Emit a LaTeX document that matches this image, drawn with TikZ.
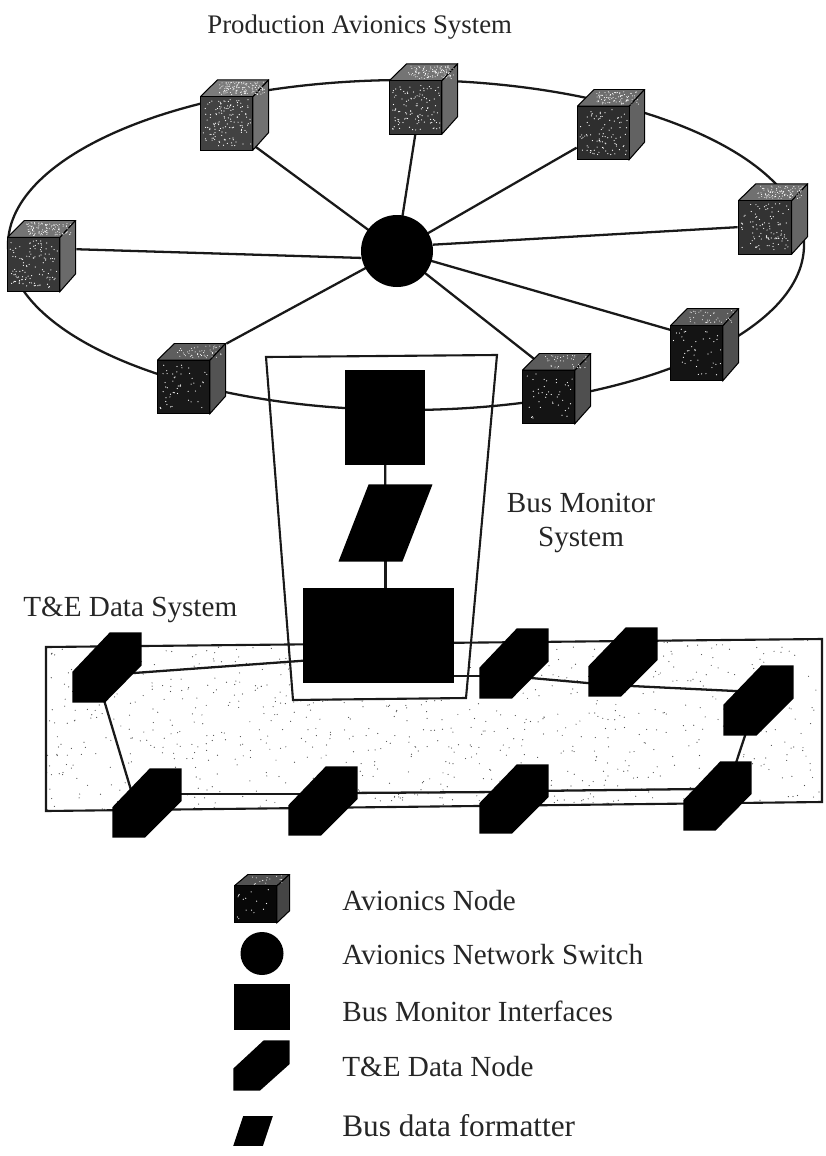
\documentclass[tikz,border=0pt]{standalone}
\usepackage{fontspec}
\setmainfont{Liberation Serif}
\pgfdeclarelayer{edgelayer}
\pgfdeclarelayer{nodelayer}
\pgfsetlayers{edgelayer,nodelayer,main}
\tikzset{font=\fontsize{16.6}{18}\selectfont}
\tikzstyle{none}=[inner sep=0pt]
\tikzstyle{label}=[inner sep=0pt,anchor=west,text=black!85]
\tikzstyle{sw}=[circle,fill=black,inner sep=0pt]
\tikzstyle{mon}=[rectangle,fill=black,inner sep=0pt]
\tikzstyle{wire}=[line width=1.3pt,draw=black!90]
\tikzstyle{bound}=[line width=1.2pt,draw=black!90]
\tikzset{
	cube/.style n args={3}{rectangle,inner sep=0pt,minimum width=#1*.02cm,minimum height=#2*.02cm,
		path picture={
			\begin{scope}[x=#1*.0002cm,y=-#2*.0002cm,draw=black,line width=.6pt]
				\filldraw[fill=black!#3!white!70!white] (-50,-26) -- (-25,-50) -- (50,-50) -- (27,-26) -- cycle;
				\filldraw[fill=black!#3!white!75!white] (27,-26) -- (50,-50) -- (50,25) -- (27,50) -- cycle;
				\filldraw[fill=black!#3] (-50,-26) rectangle (27,50);
				\pgfmathtruncatemacro{\dotn}{(100-#3)*5}
				\foreach \i in {1,...,\dotn} {
					\pgfmathsetmacro{\dotx}{-46+70*rnd}
					\pgfmathsetmacro{\doty}{-22+66*rnd}
					\fill[white] (\dotx,\doty) circle [radius=.35pt];
					\pgfmathsetmacro{\dotx}{-22+66*rnd}
					\pgfmathsetmacro{\doty}{-47+18*rnd}
					\fill[white] (\dotx,\doty) circle [radius=.3pt];
				}
			\end{scope}
		}},
	datanode/.style 2 args={rectangle,inner sep=0pt,minimum width=#1*.02cm,minimum height=#2*.02cm,
		path picture={
			\fill[black,x=#1*.0002cm,y=-#2*.0002cm] (4,-50) -- (50,-50) -- (50,-3) -- (-3,50) -- (-50,50) -- (-50,6) -- cycle;
		}},
	fmt/.style n args={3}{rectangle,inner sep=0pt,minimum width=#1*.02cm,minimum height=#2*.02cm,
		path picture={
			\fill[black,x=#1*.0002cm,y=-#2*.0002cm] (-#3,-50) -- (50,-50) -- (#3,50) -- (-50,50) -- cycle;
		}}
}

\begin{document}
\begin{tikzpicture}[x=.02cm,y=-.02cm]
	\useasboundingbox (0,0) rectangle (825,1156);
	\pgfmathsetseed{7}
	\begin{pgfonlayer}{nodelayer}
		\node [style={cube={69}{72}{78}}] (c1) at (41.5,256) {};
		\node [style={cube={69}{71}{74}}] (c2) at (234.5,115) {};
		\node [style={cube={69}{71}{78}}] (c3) at (423.5,99) {};
		\node [style={cube={68}{71}{82}}] (c4) at (611,124.5) {};
		\node [style={cube={70}{71}{80}}] (c5) at (773,219) {};
		\node [style={cube={69}{73}{92}}] (c6) at (704.5,344.5) {};
		\node [style={cube={69}{71}{92}}] (c7) at (556.5,388.5) {};
		\node [style={cube={69}{71}{90}}] (c8) at (191.5,378.5) {};
		\node [style=sw,minimum size=72*.02cm] (hub) at (397,251) {};
		\node [style=mon,minimum width=80*.02cm,minimum height=95*.02cm] (mon1) at (385,417.5) {};
		\node [style={fmt={95}{78}{18}}] (form) at (385.5,523) {};
		\node [style=mon,minimum width=151*.02cm,minimum height=95*.02cm] (mon2) at (378.5,635.5) {};
		\node [style={datanode={70}{71}}] (d1) at (107,667.5) {};
		\node [style={datanode={70}{71}}] (d2) at (514,663.5) {};
		\node [style={datanode={70}{70}}] (d3) at (623,662) {};
		\node [style={datanode={71}{71}}] (d4) at (758.5,700.5) {};
		\node [style={datanode={69}{70}}] (d5) at (717.5,796) {};
		\node [style={datanode={70}{70}}] (d6) at (514,799) {};
		\node [style={datanode={70}{70}}] (d7) at (323,801) {};
		\node [style={datanode={70}{70}}] (d8) at (147,803) {};
		% legend
		\node [style={cube={56}{49}{97}}] (k1) at (262,898.5) {};
		\node [style=sw,minimum size=43*.02cm] (k2) at (262,953.5) {};
		\node [style=mon,minimum width=56*.02cm,minimum height=46*.02cm] (k3) at (262,1007) {};
		\node [style={datanode={57}{51}}] (k4) at (261.5,1065.5) {};
		\node [style={fmt={40}{30}{25}}] (k5) at (253,1131) {};
		\node [style=label] (t1) at (342,901) {Avionics Node};
		\node [style=label] (t2) at (342,955) {Avionics Network Switch};
		\node [style=label] (t3) at (342,1011) {Bus Monitor Interfaces};
		\node [style=label] (t4) at (342,1067) {T\&E Data Node};
		\node [style=label,font=\fontsize{17.8}{20}\selectfont] (t5) at (342,1126) {Bus data formatter};
		\node [style=label,font=\fontsize{15.25}{18}\selectfont] (t6) at (207,27) {Production Avionics System};
		\node [style=label] (t7) at (23,610) {T\&E Data System};
		\node [style=label,align=center,anchor=center] (t8) at (581,523) {Bus Monitor\\[1.4pt]System};
	\end{pgfonlayer}
	\begin{pgfonlayer}{edgelayer}
		% speckle of the data system box
		\begin{scope}
			\clip (46,647) -- (822,639) -- (822,802) -- (46,811) -- cycle;
			\foreach \i in {1,...,900} {
				\pgfmathsetmacro{\dotx}{46+776*rnd}
				\pgfmathsetmacro{\doty}{639+172*rnd}
				\fill[black!70] (\dotx,\doty) circle [radius=.6];
			}
		\end{scope}
		\fill[white] (266,357) -- (497,355) -- (466,698) -- (293,700) -- cycle;
		\draw[style=bound] (46,647) -- (822,639) -- (822,802) -- (46,811) -- cycle;
		\draw[style=bound] (266,357) -- (497,355) -- (466,698) -- (293,700) -- cycle;
		\draw[style=wire] (406,245) ellipse [x radius=398, y radius=165];
		\draw[style=wire] (c1.11) to (hub.191);
		\draw[style=wire] ([shift={(10.5,24)}]c2.center) to (hub.center);
		\draw[style=wire] (c3.-103) to (hub.center);
		\draw[style=wire] (c4.-146) to (hub.center);
		\draw[style=wire] (c5.193) to (hub.10);
		\draw[style=wire] ([shift={(-25,-12)}]c6.center) to (hub.center);
		\draw[style=wire] ([shift={(-11.5,-21)}]c7.center) to (hub.center);
		\draw[style=wire] (c8.45) to (hub.center);
		\draw[style=wire] (mon1.center) to (form.center);
		\draw[style=wire] (form.center) to (form.center |- mon2.north);
		\draw[style=wire] ([shift={(13,6.5)}]d1.center) to ([shift={(-58.5,24)}]mon2.center);
		\draw[style=wire] ([shift={(60,40.5)}]mon2.center) to ([shift={(-20,12.5)}]d2.center);
		\draw[style=wire] ([shift={(0,13)}]d2.center) to ([shift={(-13,23)}]d3.center);
		\draw[style=wire] ([shift={(0,23.6)}]d3.center) to ([shift={(-13,-9)}]d4.center);
		\draw[style=wire] ([shift={(-10,24.5)}]d4.center) to ([shift={(14.5,-21)}]d5.center);
		\draw[style=wire] ([shift={(-17.5,-7)}]d5.center) to ([shift={(16,-8)}]d6.center);
		\draw[style=wire] ([shift={(-14,-7)}]d6.center) to ([shift={(20,-8)}]d7.center);
		\draw[style=wire] ([shift={(-13,-7)}]d7.center) to ([shift={(20,-9)}]d8.center);
		\draw[style=wire] ([shift={(-13,-3)}]d8.center) to ([shift={(-6,22.5)}]d1.center);
	\end{pgfonlayer}
\end{tikzpicture}
\end{document}
